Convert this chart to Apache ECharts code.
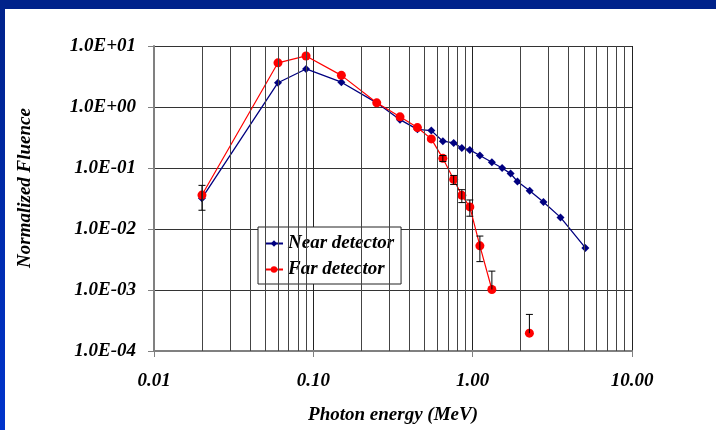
<!DOCTYPE html>
<html>
<head>
<meta charset="utf-8">
<script src="https://cdn.jsdelivr.net/npm/echarts@6/dist/echarts.min.js"></script>
<style>
html,body{margin:0;padding:0;background:#fff;}
#c{width:716px;height:430px;}
</style>
</head>
<body>
<div id="c"></div>
<script>
// ---- data ----
const energyNear = [0.02, 0.06, 0.09, 0.15, 0.25, 0.35, 0.45, 0.55, 0.65, 0.76, 0.855, 0.96, 1.11, 1.32, 1.53, 1.73, 1.91, 2.28, 2.78, 3.56, 5.1];
const fluenceNear = [0.032, 2.5, 4.2, 2.55, 1.17, 0.62, 0.43, 0.41, 0.275, 0.258, 0.213, 0.198, 0.16, 0.124, 0.1, 0.081, 0.06, 0.0425, 0.0277, 0.0155, 0.0049];
const energyFar = [0.02, 0.06, 0.09, 0.15, 0.25, 0.35, 0.45, 0.55, 0.65, 0.76, 0.855, 0.96, 1.11, 1.32, 1.7, 2.27];
const fluenceFar = [0.036, 5.3, 6.87, 3.3, 1.17, 0.69, 0.46, 0.30, 0.144, 0.065, 0.0356, 0.023, 0.0053, 0.00102, null, 0.000196];
const farErrLow = [0.0203, null, null, null, null, null, null, null, 0.1276, 0.0538, 0.0271, 0.0162, 0.00292, null, null, null];
const farErrHigh = [0.0519, null, null, null, null, null, null, null, 0.16, 0.0755, 0.0441, 0.0299, 0.00766, 0.00204, null, 0.000398];
const minorGridX = [0.02,0.03,0.04,0.05,0.06,0.07,0.08,0.09,0.2,0.3,0.4,0.5,0.6,0.7,0.8,0.9,2,3,4,5,6,7,8,9];
const seriesNames = ['Near detector', 'Far detector'];
const xTitle = 'Photon energy (MeV)';
const yTitle = 'Normalized Fluence';

const FONT = '"Liberation Serif", "Times New Roman", serif';
const chart = echarts.init(document.getElementById('c'), null, {renderer: 'canvas'});

const nearData = energyNear.map((e, i) => [e, fluenceNear[i]]);
const farData = energyFar.map((e, i) => [e, fluenceFar[i] == null ? '-' : fluenceFar[i]]);
const errData = [];
energyFar.forEach((e, i) => {
  if (farErrHigh[i] != null) {
    errData.push([e, farErrLow[i] != null ? farErrLow[i] : fluenceFar[i], farErrHigh[i], farErrLow[i] != null ? 1 : 0]);
  }
});

function sci(v) {
  const e = Math.round(Math.log10(v));
  return '1.0E' + (e < 0 ? '-' : '+') + String(Math.abs(e)).padStart(2, '0');
}

const option = {
  backgroundColor: '#ffffff',
  animation: false,
  graphic: [
    {type: 'rect', shape: {x: 0, y: 0, width: 716, height: 9}, style: {fill: '#00228a'}, z: 100},
    {type: 'rect', shape: {x: 0, y: 0, width: 5, height: 430},
     style: {fill: new echarts.graphic.LinearGradient(0, 0, 0, 1, [{offset: 0, color: '#00228a'}, {offset: 1, color: '#0034cc'}])}, z: 100},
    {type: 'text', x: 25, y: 188, rotation: Math.PI / 2,
     style: {text: yTitle, align: 'center', verticalAlign: 'middle', fill: '#000',
             font: 'italic bold 19px ' + FONT}}
  ],
  grid: {left: 154, right: 84, top: 46, bottom: 77, containLabel: false},
  legend: {
    data: seriesNames,
    orient: 'vertical',
    left: 258, top: 227,
    padding: [7, 7, 5, 6],
    itemGap: 7,
    itemWidth: 18, itemHeight: 8,
    backgroundColor: '#ffffff',
    borderColor: '#222',
    borderWidth: 1,
    borderRadius: 0,
    textStyle: {fontFamily: FONT, fontStyle: 'italic', fontWeight: 'bold', fontSize: 19, color: '#000'}
  },
  xAxis: {
    type: 'log', logBase: 10, min: 0.01, max: 10,
    name: xTitle, nameLocation: 'middle', nameGap: 55,
    nameTextStyle: {fontFamily: FONT, fontStyle: 'italic', fontWeight: 'bold', fontSize: 19, color: '#000'},
    axisLine: {lineStyle: {color: '#808080', width: 2}},
    axisTick: {show: true, inside: false, length: 6, lineStyle: {color: '#808080'}},
    axisLabel: {margin: 21, fontFamily: FONT, fontStyle: 'italic', fontWeight: 'bold', fontSize: 19, color: '#000',
                formatter: v => v.toFixed(2)},
    splitLine: {show: true, lineStyle: {color: '#222', width: 1}}
  },
  yAxis: {
    type: 'log', logBase: 10, min: 0.0001, max: 10,
    axisLine: {lineStyle: {color: '#808080', width: 2}},
    axisTick: {show: true, inside: false, length: 6, lineStyle: {color: '#808080'}},
    axisLabel: {margin: 18, fontFamily: FONT, fontStyle: 'italic', fontWeight: 'bold', fontSize: 19, color: '#000',
                formatter: sci},
    splitLine: {show: true, lineStyle: {color: '#333', width: 1}}
  },
  series: [
    {
      name: '_grid', type: 'line', data: [], silent: true, z: 1,
      markLine: {
        silent: true, symbol: 'none', animation: false,
        label: {show: false},
        lineStyle: {color: '#444', width: 1, type: 'solid'},
        data: minorGridX.map(x => ({xAxis: x}))
      }
    },
    {
      name: seriesNames[0], type: 'line', data: nearData, z: 3,
      symbol: 'diamond', symbolSize: 8,
      lineStyle: {color: '#000080', width: 1.3},
      itemStyle: {color: '#000080'}
    },
    {
      name: seriesNames[1], type: 'line', data: farData, z: 4,
      connectNulls: false,
      symbol: 'circle', symbolSize: 9,
      lineStyle: {color: '#ff0000', width: 1.2},
      itemStyle: {color: '#ff0000'}
    },
    {
      name: '_err', type: 'custom', z: 5, silent: true,
      data: errData,
      renderItem: function (params, api) {
        const x = api.value(0);
        const lo = api.coord([x, api.value(1)]);
        const hi = api.coord([x, api.value(2)]);
        const hasLow = api.value(3) === 1;
        const w = 3.5;
        const children = [
          {type: 'line', shape: {x1: lo[0], y1: lo[1], x2: hi[0], y2: hi[1]}, style: {stroke: '#000', lineWidth: 1}},
          {type: 'line', shape: {x1: hi[0] - w, y1: hi[1], x2: hi[0] + w, y2: hi[1]}, style: {stroke: '#000', lineWidth: 1}}
        ];
        if (hasLow) children.push({type: 'line', shape: {x1: lo[0] - w, y1: lo[1], x2: lo[0] + w, y2: lo[1]}, style: {stroke: '#000', lineWidth: 1}});
        return {type: 'group', children: children};
      }
    }
  ]
};
chart.setOption(option);
</script>
</body>
</html>
